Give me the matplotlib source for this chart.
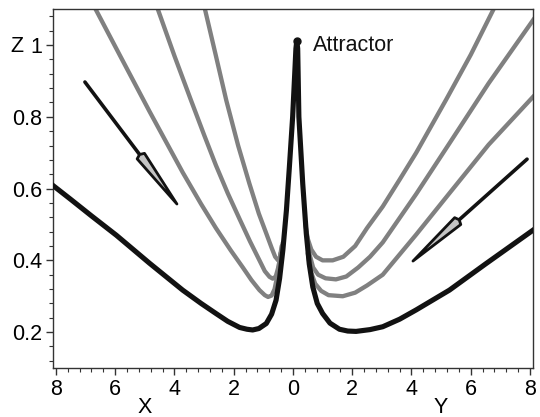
import matplotlib
matplotlib.use("Agg")
import numpy as np
import matplotlib.pyplot as plt
from matplotlib.patches import Polygon
from matplotlib.ticker import MultipleLocator, FixedLocator
import matplotlib.transforms as mtransforms

plt.rcParams['font.family'] = ['Liberation Sans', 'DejaVu Sans']

# ---- data ----
black_x = [-8.15, -7.5, -6.8, -5.96, -4.84, -3.72, -3.1, -2.6, -2.2, -1.8, -1.55, -1.36, -1.15,
           -0.9, -0.72, -0.57, -0.45, -0.34, -0.22, -0.12, -0.01, 0.06, 0.10, 0.13,
           0.16, 0.20, 0.27, 0.33, 0.45, 0.55, 0.67, 0.82, 1.0, 1.25, 1.57, 1.85, 2.13,
           2.6, 3.03, 3.6, 4.16, 5.28, 6.5, 8.15]
black_y = [0.612, 0.57, 0.524, 0.47, 0.392, 0.317, 0.28, 0.252, 0.23, 0.213, 0.208, 0.206, 0.21,
           0.224, 0.25, 0.289, 0.35, 0.429, 0.54, 0.661, 0.80, 0.92, 0.99, 1.012,
           0.99, 0.80, 0.70, 0.614, 0.475, 0.39, 0.326, 0.28, 0.252, 0.225, 0.208, 0.203, 0.202,
           0.207, 0.215, 0.236, 0.262, 0.317, 0.39, 0.487]

gray1L_x = [-2.97, -2.6, -2.25, -1.85, -1.47, -1.15, -0.9, -0.72, -0.6, -0.5, -0.42, -0.34]
gray1L_y = [1.10, 0.97, 0.846, 0.72, 0.614, 0.53, 0.475, 0.435, 0.41, 0.40, 0.41, 0.45]
gray1R_x = [0.42, 0.5, 0.62, 0.78, 1.0, 1.34, 1.7, 2.1, 2.5, 3.03, 3.6, 4.16, 5.17, 6.0, 6.77]
gray1R_y = [0.50, 0.46, 0.43, 0.41, 0.40, 0.40, 0.41, 0.44, 0.49, 0.55, 0.625, 0.700, 0.848, 0.973, 1.10]

gray2L_x = [-4.56, -4.0, -3.44, -3.0, -2.6, -2.2, -1.8, -1.45, -1.13, -0.95, -0.79, -0.68,
            -0.58, -0.48, -0.38]
gray2L_y = [1.10, 0.97, 0.846, 0.75, 0.665, 0.587, 0.515, 0.453, 0.40, 0.37, 0.354, 0.349,
            0.355, 0.385, 0.44]
gray2R_x = [0.45, 0.55, 0.68, 0.85, 1.1, 1.45, 1.8, 2.2, 2.6, 3.03, 4.16, 5.28, 6.6, 8.15]
gray2R_y = [0.48, 0.42, 0.38, 0.36, 0.35, 0.347, 0.355, 0.38, 0.41, 0.45, 0.585, 0.726, 0.893, 1.075]

gray3L_x = [-6.66, -5.8, -4.84, -3.72, -3.1, -2.6, -2.1, -1.69, -1.4, -1.13, -0.95, -0.84, -0.72,
            -0.62, -0.52, -0.42]
gray3L_y = [1.10, 0.965, 0.815, 0.645, 0.557, 0.49, 0.428, 0.38, 0.345, 0.317, 0.303, 0.298, 0.302,
            0.32, 0.36, 0.42]
gray3R_x = [0.5, 0.6, 0.75, 0.95, 1.2, 1.68, 2.1, 2.5, 3.03, 4.16, 5.28, 6.6, 8.15]
gray3R_y = [0.42, 0.37, 0.335, 0.315, 0.303, 0.30, 0.31, 0.33, 0.36, 0.472, 0.587, 0.722, 0.86]

arrow_left = [(-7.02, 0.897), (-3.915, 0.557)]
arrow_right = [(7.90, 0.682), (4.05, 0.398)]

attractor_xy = (0.68, 1.0)
xticks = [-8, -6, -4, -2, 0, 2, 4, 6, 8]
xtick_labels = ['8', '6', '4', '2', '0', '2', '4', '6', '8']
yticks = [0.2, 0.4, 0.6, 0.8, 1.0]
ytick_labels = ['0.2', '0.4', '0.6', '0.8', '1']
yminor = [0.12, 0.16, 0.24, 0.28, 0.32, 0.36, 0.44, 0.48, 0.52, 0.56, 0.64, 0.68,
          0.72, 0.76, 0.84, 0.88, 0.92, 0.96, 1.04, 1.08]

# ---- figure ----
fig = plt.figure(figsize=(5.4, 4.17), dpi=100)
ax = fig.add_axes([0.098, 0.1175, 0.889, 0.8605])
ax.set_xlim(-8.1, 8.1)
ax.set_ylim(0.1, 1.1)

gray = '#808080'
dark = '#121212'
glw = 3.1
for xs, ys in [(gray3L_x, gray3L_y), (gray2L_x, gray2L_y), (gray1L_x, gray1L_y),
               (gray3R_x, gray3R_y), (gray2R_x, gray2R_y), (gray1R_x, gray1R_y)]:
    ax.plot(xs, ys, color=gray, lw=glw, solid_capstyle='round', solid_joinstyle='round')

ax.plot(black_x, black_y, color=dark, lw=3.7, solid_capstyle='round',
        solid_joinstyle='round', zorder=3)
ax.plot([black_x[23]], [black_y[23]], 'o', color=dark, ms=5, zorder=4)

# arrows: shaft + narrow kite head built in display space
head_len = 60.0
head_half = 4.6
for (x0, y0), (x1, y1) in [arrow_left, arrow_right]:
    p0 = ax.transData.transform((x0, y0))
    p1 = ax.transData.transform((x1, y1))
    d = p1 - p0
    d = d / np.hypot(*d)
    n = np.array([-d[1], d[0]])
    base = p1 - d * head_len
    pts = np.array([p1, base + n * head_half, base - d * 2.0, base - n * head_half])
    shaft_end = ax.transData.inverted().transform(base)
    ax.plot([x0, shaft_end[0]], [y0, shaft_end[1]], color=dark, lw=2.6,
            solid_capstyle='round', zorder=5)
    poly = Polygon(pts, closed=True, transform=mtransforms.IdentityTransform(),
                   facecolor='#c4c4c4', edgecolor=dark, lw=2.0, joinstyle='round', zorder=6)
    ax.add_patch(poly)

fs = 15.5
ax.text(attractor_xy[0], attractor_xy[1], 'Attractor', fontsize=fs, va='center', ha='left',
        color='#111111')

ax.set_xticks(xticks)
ax.set_xticklabels(xtick_labels)
ax.set_yticks(yticks)
ax.set_yticklabels(ytick_labels)
ax.xaxis.set_minor_locator(MultipleLocator(0.4))
ax.yaxis.set_minor_locator(FixedLocator(yminor))
ax.tick_params(which='major', direction='out', length=5, width=1, color='#333333',
               labelsize=fs, pad=3, top=False, right=False)
ax.tick_params(which='minor', direction='out', length=3, width=0.8, color='#333333',
               top=False, right=False)
for s in ax.spines.values():
    s.set_color('#333333')
    s.set_linewidth(1.0)

trans = mtransforms.blended_transform_factory(ax.transData, ax.transAxes)
ax.text(-5, -0.11, 'X', transform=trans, fontsize=fs, ha='center', va='center')
ax.text(5, -0.11, 'Y', transform=trans, fontsize=fs, ha='center', va='center')
ax.text(-0.075, 0.895, 'Z', transform=ax.transAxes, fontsize=fs, ha='center', va='center')

fig.savefig('out.png', dpi=100)
